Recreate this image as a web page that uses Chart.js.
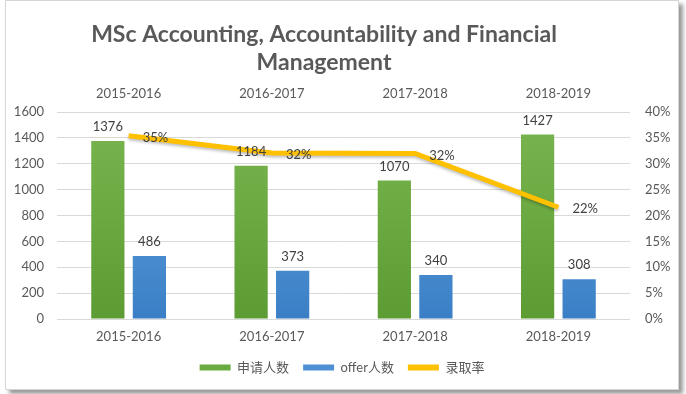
<!DOCTYPE html>
<html lang="zh">
<head>
    <meta charset="UTF-8">
    <title>MSc Accounting, Accountability and Financial Management</title>
    <script src="https://cdn.jsdelivr.net/npm/chart.js"></script>
    <style>
        html, body { margin: 0; padding: 0; background: #ffffff; }
        body { width: 686px; height: 394px; position: relative; overflow: hidden; }
        .frame {
            position: absolute; left: 5px; top: 0; width: 672px; height: 388px;
            border: 1px solid #d6d6d6; background: #fff;
            box-shadow: 4px 4px 4px #9a9a9a;
        }
        canvas { display: block; }
    </style>
</head>
<body>
    <div class="frame"><canvas id="chart" width="672" height="388"></canvas></div>
    <script>
        // values
        const years = ['2015-2016', '2016-2017', '2017-2018', '2018-2019'];
        const applicants = [1376, 1184, 1070, 1427];
        const offers = [486, 373, 340, 308];
        const offerRate = [35.4, 32.1, 32.0, 21.6];   // percent
        const countTicks = [0, 200, 400, 600, 800, 1000, 1200, 1400, 1600];
        const rateTicks = [0, 5, 10, 15, 20, 25, 30, 35, 40];
        const titleLines = ['MSc Accounting, Accountability and Financial', 'Management'];

        const FONT = "Lato, 'Noto Sans CJK SC', sans-serif";
        const GREY = '#595959';

        function gradient(ctx, top, bottom) {
            const area = ctx.chart.chartArea;
            if (!area) return top;
            const g = ctx.chart.ctx.createLinearGradient(0, area.top, 0, area.bottom);
            g.addColorStop(0, top);
            g.addColorStop(1, bottom);
            return g;
        }

        // title sits a bit left of the canvas centre in the original, so draw it here
        const chartTitle = {
            id: 'chartTitle',
            afterDraw(chart) {
                const ctx = chart.ctx;
                ctx.save();
                ctx.font = 'bold 23px ' + FONT;
                ctx.fillStyle = GREY;
                ctx.textAlign = 'center';
                ctx.textBaseline = 'middle';
                titleLines.forEach((t, i) => ctx.fillText(t, 318, 34 + i * 28));
                ctx.restore();
            }
        };

        // value labels: above the bars, right of the line points
        const valueLabels = {
            id: 'valueLabels',
            afterDatasetsDraw(chart) {
                const ctx = chart.ctx;
                ctx.save();
                ctx.font = '13px ' + FONT;
                ctx.fillStyle = '#404040';
                ctx.textBaseline = 'middle';
                chart.data.datasets.forEach((ds, i) => {
                    const meta = chart.getDatasetMeta(i);
                    meta.data.forEach((el, j) => {
                        if (ds.type === 'line') {
                            ctx.textAlign = 'left';
                            ctx.fillText(Math.round(ds.data[j]) + '%', el.x + 14, el.y + 2);
                        } else {
                            ctx.textAlign = 'center';
                            ctx.fillText(ds.data[j], el.x, el.y - 14);
                        }
                    });
                });
                ctx.restore();
            }
        };

        const lineShadow = {
            id: 'lineShadow',
            beforeDatasetDraw(chart, args) {
                if (chart.data.datasets[args.index].type !== 'line') return;
                const ctx = chart.ctx;
                ctx.save();
                ctx.shadowColor = 'rgba(0,0,0,0.25)';
                ctx.shadowBlur = 3;
                ctx.shadowOffsetY = 2;
            },
            afterDatasetDraw(chart, args) {
                if (chart.data.datasets[args.index].type !== 'line') return;
                chart.ctx.restore();
            }
        };

        new Chart(document.getElementById('chart'), {
            data: {
                labels: years,
                datasets: [
                    {
                        type: 'bar', label: '申请人数', data: applicants, yAxisID: 'y', order: 1,
                        backgroundColor: c => gradient(c, '#7ab650', '#5c9c33'),
                        categoryPercentage: 0.58, barPercentage: 0.8
                    },
                    {
                        type: 'bar', label: 'offer人数', data: offers, yAxisID: 'y', order: 1,
                        backgroundColor: c => gradient(c, '#6aa8e0', '#3a7fc6'),
                        categoryPercentage: 0.58, barPercentage: 0.8
                    },
                    {
                        type: 'line', label: '录取率', data: offerRate, yAxisID: 'y1', order: 0,
                        borderColor: '#ffc000', backgroundColor: '#ffc000',
                        borderWidth: 5, pointRadius: 0, tension: 0
                    }
                ]
            },
            options: {
                responsive: false,
                animation: false,
                layout: { padding: { left: 0, right: 0, top: 81, bottom: 5 } },
                plugins: {
                    legend: {
                        position: 'bottom',
                        labels: {
                            color: GREY,
                            font: { family: FONT, size: 13 },
                            boxWidth: 31, boxHeight: 6, padding: 14,
                            sort: (a, b) => a.datasetIndex - b.datasetIndex,
                            generateLabels(chart) {
                                const items = Chart.defaults.plugins.legend.labels.generateLabels(chart);
                                items.forEach(it => {
                                    const ds = chart.data.datasets[it.datasetIndex];
                                    it.lineWidth = 0;
                                    if (ds.type === 'bar') {
                                        it.fillStyle = it.datasetIndex === 0 ? '#6aab41' : '#4f90d4';
                                    }
                                });
                                return items;
                            }
                        }
                    },
                    tooltip: { enabled: false }
                },
                scales: {
                    x: {
                        position: 'bottom',
                        grid: { display: false },
                        border: { display: false },
                        ticks: { color: GREY, font: { family: FONT, size: 13 }, padding: 2 },
                        afterFit(s) { s.height = 28; }
                    },
                    xTop: {
                        type: 'category',
                        labels: years,
                        position: 'top',
                        offset: true,
                        grid: { display: false },
                        border: { display: false },
                        ticks: { color: GREY, font: { family: FONT, size: 13 }, padding: 2 },
                        afterFit(s) { s.height = 30; }
                    },
                    y: {
                        position: 'left',
                        min: 0, max: 1600,
                        afterBuildTicks(s) { s.ticks = countTicks.map(v => ({ value: v })); },
                        grid: { color: '#d9d9d9', drawTicks: false },
                        border: { display: false },
                        ticks: { color: GREY, font: { family: FONT, size: 13 }, padding: 13, callback: v => String(v) },
                        afterFit(s) { s.width = 51; }
                    },
                    y1: {
                        position: 'right',
                        min: 0, max: 40,
                        afterBuildTicks(s) { s.ticks = rateTicks.map(v => ({ value: v })); },
                        grid: { display: false, drawTicks: false },
                        border: { display: false },
                        ticks: { color: GREY, font: { family: FONT, size: 13 }, padding: 15, callback: v => v + '%' },
                        afterFit(s) { s.width = 48; }
                    }
                }
            },
            plugins: [lineShadow, valueLabels, chartTitle]
        });
    </script>
</body>
</html>
